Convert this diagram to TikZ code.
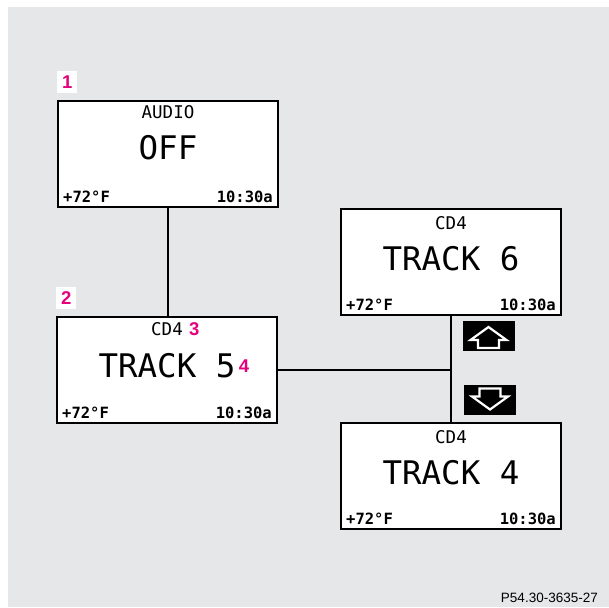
\documentclass[tikz,border=0pt]{standalone}
\usepackage{fontspec}
\setmainfont{Liberation Sans}
\newfontfamily\lcd{DejaVu Sans Mono}
\usetikzlibrary{calc}
\definecolor{bggray}{RGB}{230,231,233}
\definecolor{tagpink}{RGB}{229,0,125}
\begin{document}
\begin{tikzpicture}[x=1pt,y=-1pt,
  screen/.style={draw=black,line width=2pt,fill=white,minimum width=220pt,minimum height=106pt,inner sep=0pt},
  titletext/.style={font=\lcd\fontsize{17.5}{18}\selectfont,inner sep=0pt,anchor=base},
  bigtext/.style={font=\lcd\fontsize{32.5}{34}\selectfont,inner sep=0pt,anchor=base},
  foottext/.style={font=\lcd\bfseries\fontsize{15.5}{16}\selectfont,inner sep=0pt},
  tagbox/.style={fill=white,minimum width=20pt,minimum height=22pt,inner sep=0pt,text=tagpink,font=\bfseries\fontsize{18.5}{19}\selectfont},
  callout/.style={inner sep=0pt,text=tagpink,font=\bfseries\fontsize{18.5}{19}\selectfont},
  link/.style={line width=2pt},
  btn/.style={fill=black,minimum width=52pt,minimum height=30pt,inner sep=0pt},
  arr/.style={draw=white,line width=2.2pt,fill=black,line join=miter}
]
\useasboundingbox (0,0) rectangle (609,607);
\fill[bggray] (8,7) rectangle (609,607);

% screens and connectors
\node[screen] (b1) at (168,154) {};
\node[screen] (b2) at (167,370) {};
\node[screen] (b6) at (451,262) {};
\node[screen] (b4) at (451,476) {};
\coordinate (j) at (b2.east -| b6.south);
\draw[link] (b1.south) -- (b1.south |- b2.north);
\draw[link] (b6.south) -- (b4.north);
\draw[link] (b2.east) -- (j);

% screen 1
\node[titletext] (b1t) at ([yshift=-18pt]b1.north) {AUDIO};
\node[bigtext] (b1m) at ([yshift=-59pt]b1.north) {OFF};
\node[foottext,anchor=base west] (b1l) at ([xshift=6pt,yshift=6pt]b1.south west) {+72°F};
\node[foottext,anchor=base east] (b1r) at ([xshift=-6pt,yshift=6pt]b1.south east) {10:30a};

% screen 2
\node[titletext] (b2t) at ([yshift=-19pt]b2.north) {CD4};
\node[bigtext] (b2m) at ([yshift=-61pt]b2.north) {TRACK 5};
\node[foottext,anchor=base west] (b2l) at ([xshift=6pt,yshift=6pt]b2.south west) {+72°F};
\node[foottext,anchor=base east] (b2r) at ([xshift=-6pt,yshift=6pt]b2.south east) {10:30a};
\node[callout,anchor=base west] (c3) at ([xshift=6pt]b2t.base east) {3};
\node[callout,anchor=base west] (c4) at ([xshift=3pt,yshift=5pt]b2m.base east) {4};

% screen 6
\node[titletext] (b6t) at ([yshift=-21pt]b6.north) {CD4};
\node[bigtext] (b6m) at ([yshift=-62pt]b6.north) {TRACK 6};
\node[foottext,anchor=base west] (b6l) at ([xshift=6pt,yshift=6pt]b6.south west) {+72°F};
\node[foottext,anchor=base east] (b6r) at ([xshift=-6pt,yshift=6pt]b6.south east) {10:30a};

% screen 4
\node[titletext] (b4t) at ([yshift=-21pt]b4.north) {CD4};
\node[bigtext] (b4m) at ([yshift=-62pt]b4.north) {TRACK 4};
\node[foottext,anchor=base west] (b4l) at ([xshift=6pt,yshift=6pt]b4.south west) {+72°F};
\node[foottext,anchor=base east] (b4r) at ([xshift=-6pt,yshift=6pt]b4.south east) {10:30a};

% tags
\node[tagbox,anchor=south west] (t1) at ([yshift=7pt]b1.north west) {1};
\node[tagbox,anchor=south west] (t2) at ([yshift=7pt]b2.north west) {2};

% buttons
\node[btn] (up) at (488.5,336) {};
\node[btn] (down) at (490,399.5) {};
\draw[arr,shift={(up.center)}] (0,-9) -- (18,4) -- (10.5,4) -- (10.5,12) -- (-10.5,12) -- (-10.5,4) -- (-18,4) -- cycle;
\draw[arr,shift={(down.center)}] (0,10) -- (18,-3) -- (10.5,-3) -- (10.5,-11) -- (-10.5,-11) -- (-10.5,-3) -- (-18,-3) -- cycle;

% caption
\node[anchor=base east,font=\fontsize{13.5}{14}\selectfont,inner sep=0pt] (cap) at (598,602) {P54.30-3635-27};
\end{tikzpicture}
\end{document}
